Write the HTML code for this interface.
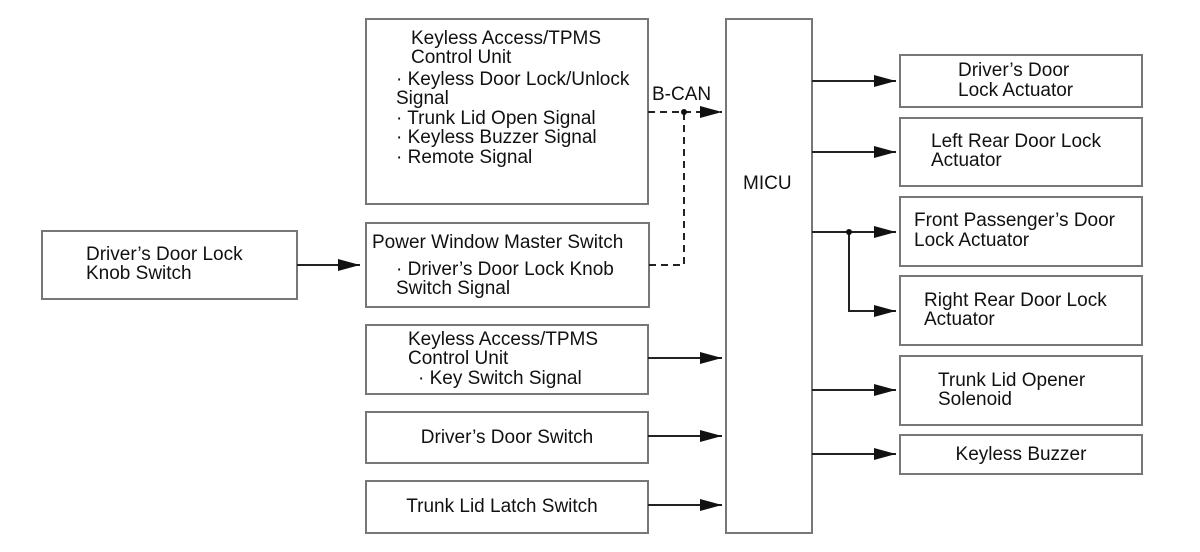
<!DOCTYPE html>
<html><head><meta charset="utf-8"><style>
body{margin:0;background:#fff;}
svg{display:block;}
text{font-family:"Liberation Sans",Arial,sans-serif;font-size:19px;fill:#111;}
</style></head><body>
<svg width="1200" height="552" viewBox="0 0 1200 552" xmlns="http://www.w3.org/2000/svg">
<defs>
<marker id="b" markerWidth="22" markerHeight="14" refX="22" refY="7" orient="auto" markerUnits="userSpaceOnUse"><path d="M0,1 L22,7 L0,13 Z" fill="#111"/></marker></defs>
<g fill="#fff" stroke="#777" stroke-width="2">
<rect x="42" y="231" width="255" height="68"/>
<rect x="366" y="19" width="282" height="185"/>
<rect x="366" y="223" width="283" height="84"/>
<rect x="366" y="325" width="282" height="69"/>
<rect x="366" y="412" width="282" height="51"/>
<rect x="366" y="481" width="282" height="52"/>
<rect x="726" y="19" width="86" height="514"/>
<rect x="900" y="55" width="242" height="52"/>
<rect x="900" y="118" width="242" height="68"/>
<rect x="900" y="197" width="242" height="69"/>
<rect x="900" y="276" width="242" height="69"/>
<rect x="900" y="356" width="242" height="69"/>
<rect x="900" y="435" width="242" height="39"/>
</g>
<g stroke="#222" stroke-width="2" fill="none">
<path d="M297 265H360" marker-end="url(#b)"/>
<path d="M648 358H722" marker-end="url(#b)"/>
<path d="M648 436H722" marker-end="url(#b)"/>
<path d="M648 505H722" marker-end="url(#b)"/>
<path d="M648 112H722" stroke-dasharray="7,5" marker-end="url(#b)"/>
<path d="M649 265H684V112" stroke-dasharray="7,5"/>
<path d="M812 81H896" marker-end="url(#b)"/>
<path d="M812 152H896" marker-end="url(#b)"/>
<path d="M812 232H896" marker-end="url(#b)"/>
<path d="M849 232V311H896" marker-end="url(#b)"/>
<path d="M812 390H896" marker-end="url(#b)"/>
<path d="M812 454H896" marker-end="url(#b)"/>
</g>
<circle cx="684" cy="112" r="3" fill="#111"/>
<circle cx="849" cy="232" r="3" fill="#111"/>
<text x="411" y="44">Keyless Access/TPMS</text>
<text x="411" y="63">Control Unit</text>
<text x="396" y="85">· Keyless Door Lock/Unlock</text>
<text x="396" y="104">Signal</text>
<text x="396" y="124">· Trunk Lid Open Signal</text>
<text x="396" y="143">· Keyless Buzzer Signal</text>
<text x="396" y="163">· Remote Signal</text>
<text x="652" y="100">B-CAN</text>
<text x="743" y="189">MICU</text>
<text x="86" y="260">Driver’s Door Lock</text>
<text x="86" y="279">Knob Switch</text>
<text x="372" y="248">Power Window Master Switch</text>
<text x="396" y="275">· Driver’s Door Lock Knob</text>
<text x="396" y="294">Switch Signal</text>
<text x="408" y="345">Keyless Access/TPMS</text>
<text x="408" y="364">Control Unit</text>
<text x="418" y="384">· Key Switch Signal</text>
<text x="507" y="443" text-anchor="middle">Driver’s Door Switch</text>
<text x="502" y="512" text-anchor="middle">Trunk Lid Latch Switch</text>
<text x="958" y="76">Driver’s Door</text>
<text x="958" y="96">Lock Actuator</text>
<text x="931" y="147">Left Rear Door Lock</text>
<text x="931" y="166">Actuator</text>
<text x="914" y="226">Front Passenger’s Door</text>
<text x="914" y="246">Lock Actuator</text>
<text x="924" y="306">Right Rear Door Lock</text>
<text x="924" y="325">Actuator</text>
<text x="938" y="386">Trunk Lid Opener</text>
<text x="938" y="405">Solenoid</text>
<text x="1021" y="460" text-anchor="middle">Keyless Buzzer</text>
</svg>
</body></html>
